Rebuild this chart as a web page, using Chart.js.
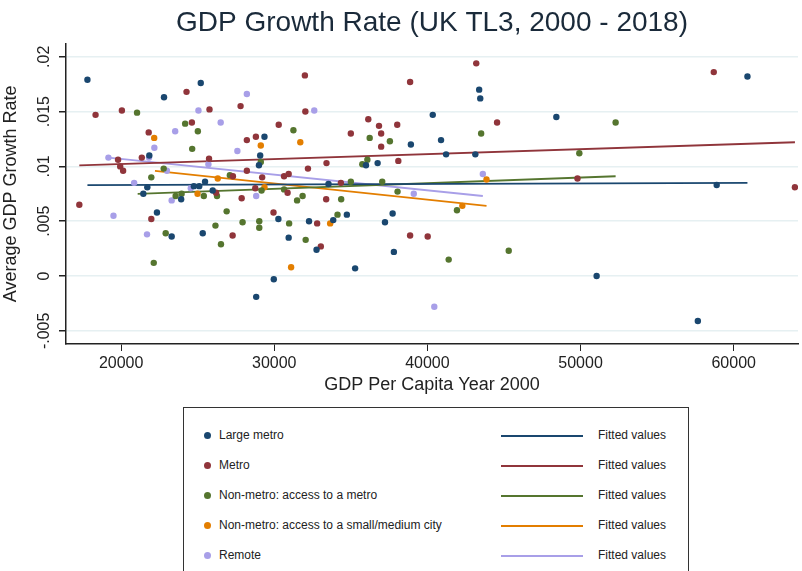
<!DOCTYPE html>
<html><head><meta charset="utf-8">
<script src="https://cdn.jsdelivr.net/npm/chart.js@4"></script>
<style>
body{margin:0;background:#fff;font-family:"Liberation Sans",Arial,sans-serif;}
#wrap{position:relative;width:802px;height:571px;}
#legend{position:absolute;left:183px;top:407px;width:506px;height:170px;border:1px solid #333;box-sizing:border-box;font-size:12px;color:#222;}
.row{position:absolute;left:0;width:100%;height:20px;}
.dot{position:absolute;left:20px;top:6px;width:7px;height:7px;border-radius:50%;}
.lab{position:absolute;left:35px;top:2px;}
.ln{position:absolute;left:317px;top:9px;width:82px;height:2px;}
.fv{position:absolute;left:414px;top:2px;}
</style></head>
<body><div id="wrap"><canvas id="c" width="802" height="400"></canvas><div id="legend"></div></div>
<script>
var groupNames = ['Large metro', 'Metro', 'Non-metro: access to a metro', 'Non-metro: access to a small/medium city', 'Remote'];
var colors = ['#1a476f', '#90353b', '#55752f', '#e37e00', '#a89fe8'];
var largeMetro = [[17800,.0179],[22800,.0163],[25200,.0176],[21840,.011],[21710,.0081],[21450,.0075],[22340,.0058],[23300,.0036],[23920,.0070],[24750,.0082],[25100,.0082],[25480,.0086],[25330,.0039],[25980,.0078],[29360,.0127],[29080,.011],[29000,.0101],[30270,.0052],[29970,-.0003],[28820,-.0019],[30940,.0035],[32270,.005],[32760,.0024],[33540,.0084],[33850,.0051],[34740,.0056],[35280,.0007],[35990,.0101],[36750,.0103],[37230,.0049],[37730,.0057],[37810,.0022],[38920,.012],[40350,.0147],[40890,.0124],[41220,.0111],[43130,.0111],[43380,.017],[43450,.0162],[48420,.0145],[51050,0],[57660,-.0041],[58890,.0083],[60900,.0182]];
var metro = [[17270,.0065],[18330,.0147],[20050,.0151],[19800,.0106],[19940,.01],[20130,.0096],[21800,.0131],[21350,.0108],[21970,.0052],[24270,.0168],[24620,.014],[25770,.0152],[25740,.0107],[26200,.0076],[27280,.0037],[27300,.0091],[27870,.0071],[27800,.0155],[28210,.0124],[28210,.0096],[28800,.0127],[28760,.008],[29210,.009],[29950,.0058],[30290,.0138],[30640,.0091],[30940,.0093],[30870,.0076],[32000,.0183],[32030,.015],[32200,.0098],[32800,.0048],[33040,.0027],[33410,.0103],[33390,.007],[34350,.0085],[35000,.013],[36140,.0143],[36840,.0137],[36980,.013],[36980,.0118],[38030,.0138],[38100,.0105],[38870,.0177],[38870,.0037],[40020,.0036],[43190,.0194],[44550,.014],[49800,.0089],[58700,.0186],[64000,.0081]];
var nonMetroMetro = [[21040,.0149],[22130,.0012],[21970,.009],[22780,.0098],[22910,.0039],[23560,.0073],[23950,.0075],[24180,.0139],[24640,.0116],[25010,.0132],[25400,.0073],[26160,.0046],[26260,.0073],[26520,.0029],[26890,.0059],[27100,.0092],[27930,.0049],[29020,.005],[29020,.0044],[29120,.0104],[29170,.0078],[30640,.0079],[30970,.0048],[31250,.0133],[31490,.0069],[31850,.0073],[32050,.0033],[34130,.0056],[34370,.007],[35000,.0086],[35750,.0102],[36080,.0106],[36230,.0126],[37050,.0086],[37550,.0123],[38050,.0077],[43510,.013],[41930,.006],[41390,.0015],[45310,.0023],[49920,.0112],[52290,.014]];
var nonMetroCity = [[22160,.0126],[29120,.0119],[31700,.0122],[26310,.0089],[24990,.0075],[29360,.0081],[33650,.0048],[31100,.0008],[43860,.0088],[42280,.0064]];
var remote = [[19170,.0108],[19500,.0055],[20850,.0085],[21690,.0038],[21820,.0108],[22170,.0117],[23300,.0069],[22990,.0096],[23530,.0132],[24550,.008],[25050,.0151],[25700,.0102],[26500,.014],[27590,.0114],[28210,.0166],[28820,.0073],[32610,.0151],[39110,.0075],[40450,-.0028],[43620,.0093]];
// fitted line end points
var fits = [[[17800,.0083],[60900,.0085]],[[17270,.0101],[64000,.0122]],[[21080,.0075],[52290,.0091]],[[22210,.0096],[43860,.0064]],[[19170,.0108],[43620,.0073]]];
var xTicks = [20000, 30000, 40000, 50000, 60000];
var yTicks = [-0.005, 0, 0.005, 0.01, 0.015, 0.02];
var yTickLabels = ['-.005', '0', '.005', '.01', '.015', '.02'];

var groups = [largeMetro, metro, nonMetroMetro, nonMetroCity, remote];
var pt = function(a){ return {x:a[0], y:a[1]}; };
var datasets = [];
groups.forEach(function(g, i){
  datasets.push({type:'scatter', data:g.map(pt), backgroundColor:colors[i], borderWidth:0, pointRadius:3.2});
});
fits.forEach(function(f, i){
  datasets.push({type:'line', data:f.map(pt), borderColor:colors[i], borderWidth:1.8, pointRadius:0, fill:false});
});

var yLabels = {
  id:'yLabels',
  afterDraw:function(chart){
    var c = chart.ctx, s = chart.scales.y;
    c.save(); c.fillStyle = '#222'; c.font = '16px "Liberation Sans", Arial'; c.textAlign = 'center'; c.textBaseline = 'middle';
    yTicks.forEach(function(v, i){
      c.save(); c.translate(45, s.getPixelForValue(v)); c.rotate(-Math.PI/2); c.fillText(yTickLabels[i], 0, 0); c.restore();
    });
    c.restore();
  }
};

new Chart(document.getElementById('c'), {
  type:'scatter',
  data:{datasets:datasets},
  plugins:[yLabels],
  options:{
    responsive:false, animation:false,
    layout:{padding:{top:0, right:0, left:0}},
    plugins:{
      legend:{display:false}, tooltip:{enabled:false},
      title:{display:true, fullSize:false, text:'GDP Growth Rate (UK TL3, 2000 - 2018)', color:'#1a2a3a', font:{size:28, family:'"Liberation Sans", Arial', weight:'normal'}, padding:{top:6, bottom:4}}
    },
    scales:{
      x:{type:'linear', min:16400, max:64200,
        afterBuildTicks:function(s){ s.ticks = xTicks.map(function(v){return {value:v};}); },
        afterFit:function(s){ s.height = 56; },
        border:{color:'#222', width:1.5},
        grid:{drawOnChartArea:false, tickLength:7, color:'#222'},
        ticks:{color:'#222', font:{size:16, family:'"Liberation Sans", Arial'}, maxRotation:0, callback:function(v){return v;}},
        title:{display:true, text:'GDP Per Capita Year 2000', color:'#222', font:{size:18, family:'"Liberation Sans", Arial'}, padding:{top:0}}
      },
      y:{type:'linear', min:-0.0062, max:0.0212,
        afterBuildTicks:function(s){ s.ticks = yTicks.map(function(v){return {value:v};}); },
        afterFit:function(s){ s.width = 66; },
        border:{color:'#222', width:1.5},
        grid:{color:'#e6f0f2', lineWidth:1.5, tickLength:7, tickColor:'#222'},
        ticks:{color:'rgba(0,0,0,0)', font:{size:16}},
        title:{display:true, text:'Average GDP Growth Rate', color:'#222', font:{size:18, family:'"Liberation Sans", Arial'}, padding:{top:0, bottom:0}}
      }
    }
  }
});

var lg = document.getElementById('legend');
groupNames.forEach(function(n, i){
  var r = document.createElement('div'); r.className = 'row'; r.style.top = (18 + i*30) + 'px';
  r.innerHTML = '<div class="dot" style="background:'+colors[i]+'"></div><div class="lab">'+n+'</div>' +
    '<div class="ln" style="background:'+colors[i]+'"></div><div class="fv">Fitted values</div>';
  lg.appendChild(r);
});
</script></body></html>
